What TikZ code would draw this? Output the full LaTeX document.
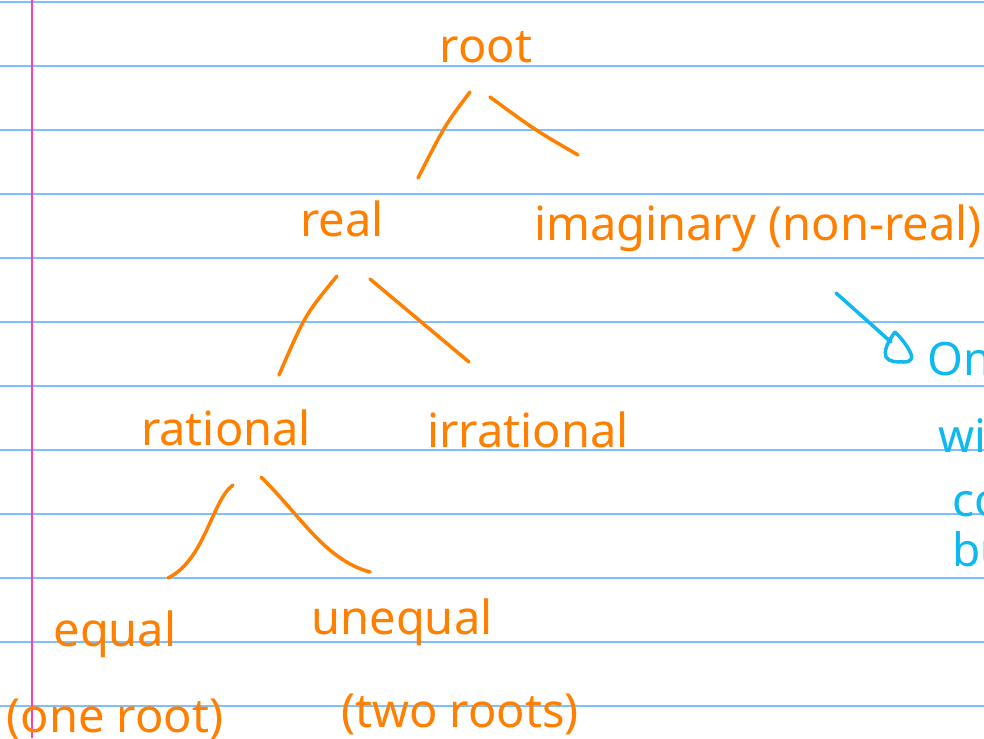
\documentclass[tikz,border=0pt]{standalone}
\usepackage{fontspec}
\setmainfont{Noto Sans}
\usetikzlibrary{arrows.meta}
\definecolor{ink}{HTML}{FF8000}
\definecolor{blueink}{HTML}{10B8F0}
\definecolor{rule}{HTML}{80BFFF}
\definecolor{margin}{HTML}{FF40A8}
\tikzset{
  word/.style={text=ink, anchor=base, inner sep=0pt, font=\fontsize{47}{52}\selectfont},
  bword/.style={text=blueink, anchor=base west, inner sep=0pt, font=\fontsize{46}{52}\selectfont},
  branch/.style={draw=ink, line width=3.5pt, line cap=round, line join=round},
  bluepen/.style={draw=blueink, line width=3.5pt, line cap=round, line join=round},
  paperline/.style={draw=rule, line width=2pt},
}
\begin{document}
\begin{tikzpicture}[x=1pt,y=-1pt]
\useasboundingbox (0,0) rectangle (984,738);
\clip (0,0) rectangle (984,738);
\fill[white] (0,0) rectangle (984,738);
% ruled paper
\foreach \yy in {2,66,130,194,258,322,386,450,514,578,642,706}
  \draw[paperline] (0,\yy) -- (984,\yy);
\draw[draw=margin, line width=2pt] (32,0) -- (32,738);
% words
\node[word] (root) at (486,63) {root};
\node[word] (real) at (342,236) {real};
\node[word] (imag) at (758,240) {imaginary (non-real)};
\node[word] (rational) at (226,445) {rational};
\node[word] (irrational) at (528,447) {irrational};
\node[word] (equal) at (115,646) {equal};
\node[word] (oneroot) at (115,732) {(one root)};
\node[word] (unequal) at (402,634) {unequal};
\node[word] (tworoots) at (460,727) {(two roots)};
\node[bword] (only) at (927,375) {Onl};
\node[bword] (with) at (938,452) {wit};
\node[bword] (co) at (952,516) {co};
\node[bword] (bu) at (952,566) {bu};
% branch end points
\coordinate (rA1) at (470,92);  \coordinate (rA2) at (418,178);
\coordinate (rB1) at (490,97);  \coordinate (rB2) at (578,155);
\coordinate (eA1) at (337,276); \coordinate (eA2) at (279,375);
\coordinate (eB1) at (370,279); \coordinate (eB2) at (469,362);
\coordinate (tA1) at (233,485); \coordinate (tA2) at (168,578);
\coordinate (tB1) at (261,477); \coordinate (tB2) at (370,572);
\coordinate (ar1) at (836,293); \coordinate (ar2) at (891,342);
\coordinate (hd) at (895,332);
% branches
\draw[branch] (rA1) .. controls (445,125) .. (rA2);
\draw[branch] (rB1) .. controls (535,130) .. (rB2);
\draw[branch] (eA1) .. controls (305,315) .. (eA2);
\draw[branch] (eB1) .. controls (420,320) .. (eB2);
\draw[branch] (tA1) .. controls (212,500) and (205,560) .. (tA2);
\draw[branch] (tB1) .. controls (300,515) and (325,560) .. (tB2);
% blue arrow with hand-drawn open head
\draw[bluepen] (ar1) -- (ar2);
\draw[bluepen] (hd) .. controls (886,344) and (884,352) .. (886,357)
  .. controls (889,362) and (896,362) .. (904,362)
  .. controls (911,362) and (913,358) .. (911,354)
  .. controls (907,345) and (901,338) .. (hd);
\end{tikzpicture}
\end{document}
